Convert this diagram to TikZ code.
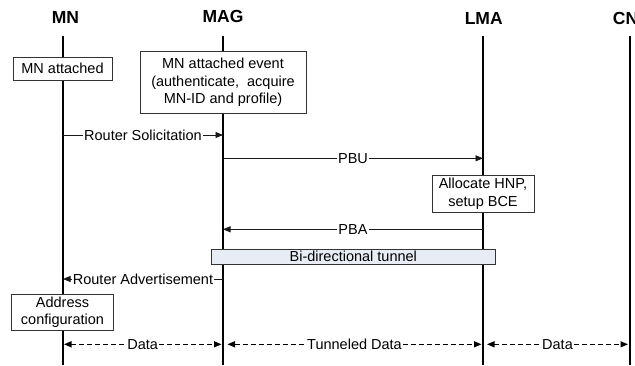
\documentclass[tikz,border=0pt]{standalone}
\usepackage{fontspec}
\setmainfont{Liberation Sans}
\usetikzlibrary{arrows.meta}
\definecolor{tunnelfill}{RGB}{232,236,244}
\begin{document}
\begin{tikzpicture}[x=1pt,y=-1pt,
  lifeline/.style={line width=1.7pt, black},
  head/.style={font=\fontsize{17.5}{20}\selectfont\bfseries, inner sep=0pt},
  box/.style={draw=black!80, fill=white, line width=0.75pt, align=center,
    font=\fontsize{14.5}{17.5}\selectfont, inner sep=0pt},
  msg/.style={line width=0.85pt, black!90, -{Triangle[length=7.5pt,width=6pt]}},
  lbl/.style={fill=white, inner sep=1pt, font=\fontsize{14.5}{17}\selectfont, text=black},
  datamsg/.style={line width=1.3pt, black, dash pattern=on 5pt off 3pt,
    {Triangle[length=7.5pt,width=6pt]}-{Triangle[length=7.5pt,width=6pt]}},
]
\useasboundingbox (0,0) rectangle (635,365);

% headers
\node[head] (hMN)  at (65.5,17.8) {MN};
\node[head] (hMAG) at (223,16.5) {MAG};
\node[head] (hLMA) at (483.7,18) {LMA};
\node[head] (hCN)  at (625.5,18) {CN};

% lifelines
\coordinate (mnT) at (63,36);   \coordinate (mnB) at (63,365);
\coordinate (magT) at (223,36); \coordinate (magB) at (223,365);
\coordinate (lmaT) at (483,36); \coordinate (lmaB) at (483,365);
\coordinate (cnT) at (630,36);  \coordinate (cnB) at (630,365);
\draw[lifeline] (mnT) -- (mnB);
\draw[lifeline] (magT) -- (magB);
\draw[lifeline] (lmaT) -- (lmaB);
\draw[lifeline] (cnT) -- (cnB);

% boxes
\node[box, minimum width=99pt, minimum height=23pt] (mnatt) at (62.5,68.5) {MN attached};
\node[box, minimum width=166pt, minimum height=61.6pt] (magev) at (223,82.5)
  {MN attached event\\(authenticate,\ \ acquire\\MN-ID and profile)};
\node[box, minimum width=102pt, minimum height=37pt] (alloc) at (483,193.5)
  {Allocate HNP,\\setup BCE};
\node[box, fill=tunnelfill, minimum width=283.3pt, minimum height=15pt] (tunnel) at (353.3,256.5)
  {Bi-directional tunnel};
\node[box, minimum width=101.6pt, minimum height=35.7pt] (addr) at (62.5,312.2)
  {Address\\configuration};

% message endpoints
\coordinate (rsA) at (63,135);   \coordinate (rsB) at (223,135);
\coordinate (pbuA) at (223,158.3); \coordinate (pbuB) at (483,158.3);
\coordinate (pbaA) at (483,229.3); \coordinate (pbaB) at (223,229.3);
\coordinate (raA) at (223,279);  \coordinate (raB) at (63,279);
\coordinate (d1A) at (64,344.3);  \coordinate (d1B) at (221.5,344.3);
\coordinate (d2A) at (227.5,344.3); \coordinate (d2B) at (481.5,344.3);
\coordinate (d3A) at (487,344.3); \coordinate (d3B) at (628,344.3);

\draw[msg] (rsA) -- node[lbl] {Router Solicitation} (rsB);
\draw[msg] (pbuA) -- node[lbl] {PBU} (pbuB);
\draw[msg] (pbaA) -- node[lbl] {PBA} (pbaB);
\draw[msg] (raA) -- node[lbl] {Router Advertisement} (raB);

\draw[datamsg] (d1A) -- node[lbl, inner sep=0.5pt] {Data} (d1B);
\draw[datamsg] (d2A) -- node[lbl, inner sep=0.5pt] {Tunneled Data} (d2B);
\draw[datamsg] (d3A) -- node[lbl, inner sep=0.5pt] {Data} (d3B);
\end{tikzpicture}
\end{document}
